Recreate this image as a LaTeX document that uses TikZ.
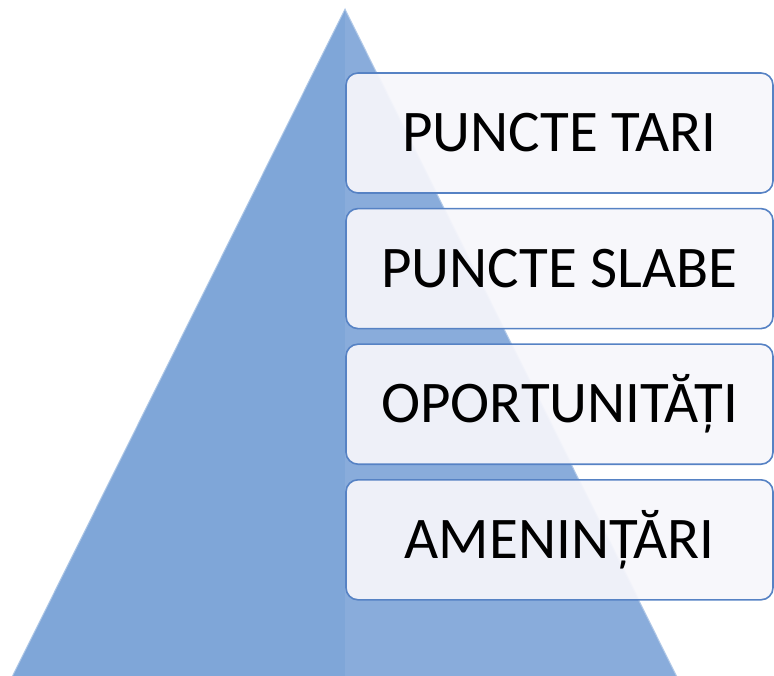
\documentclass[tikz,border=0pt]{standalone}
\usepackage{fontspec}
\setmainfont{Carlito}
\usetikzlibrary{positioning}

\definecolor{piramida}{RGB}{127,166,216}
\definecolor{margine}{RGB}{86,130,196}
\definecolor{fundal}{RGB}{246,246,251}

\tikzset{
  caseta/.style={rectangle, rounded corners=12pt, draw=margine, line width=1.6pt,
    fill=fundal, fill opacity=0.93, text opacity=1, minimum width=427pt,
    minimum height=120pt, font=\fontsize{59}{63}\selectfont, inner sep=0pt}
}

\begin{document}
\begin{tikzpicture}[x=1pt, y=-1pt]
  \useasboundingbox (0,0) rectangle (774,676);

  % Piramida
  \coordinate (varf) at (345,8);
  \coordinate (stanga) at (12,676);
  \coordinate (dreapta) at (677,676);
  \fill[piramida] (varf) -- (stanga) -- (dreapta) -- cycle;
  \fill[white, opacity=0.08] (varf) -- (345,676) -- (dreapta) -- cycle;
  \draw[white, opacity=0.35, line width=2pt] (stanga) -- (varf) -- (dreapta);

  % Casete
  \node[caseta] (tari) at (559.5,133) {PUNCTE TARI};
  \node[caseta, below=14pt of tari] (slabe) {PUNCTE SLABE};
  \node[caseta, below=14pt of slabe] (oport) {OPORTUNITĂȚI};
  \node[caseta, below=14pt of oport] (amen) {AMENINȚĂRI};
\end{tikzpicture}
\end{document}
